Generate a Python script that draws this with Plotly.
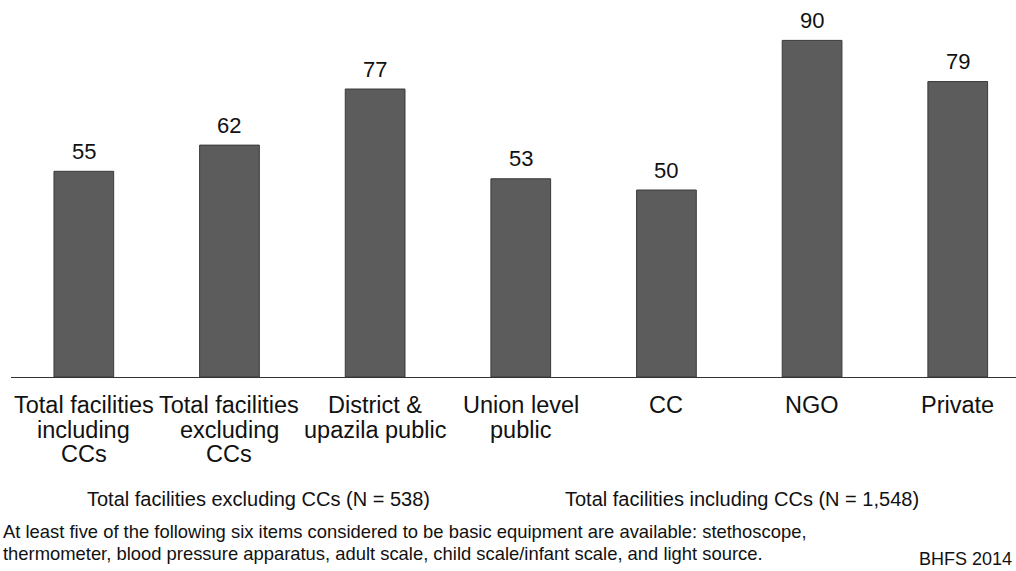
import plotly.graph_objects as go

categories = ["Total facilities<br>including<br>CCs", "Total facilities<br>excluding<br>CCs",
              "District &<br>upazila public", "Union level<br>public", "CC", "NGO", "Private"]
values = [55, 62, 77, 53, 50, 90, 79]

W, H = 1016, 571
L, R, T, B = 11, 0, 3, 194
pw, ph = W - L - R, H - T - B

def px_x(x):
    return (x - L) / pw

def px_y(y):
    return (H - B - y) / ph

FONT = "Liberation Sans, Arial, sans-serif"
xs = list(range(len(categories)))

fig = go.Figure()
fig.add_trace(go.Bar(
    x=xs, y=values, width=0.41,
    marker=dict(color="#5c5c5c", line=dict(color="#3a3a3a", width=1)),
    hoverinfo="skip",
))

ann = []
for x, v in zip(xs, values):
    ann.append(dict(x=x, y=v, xref="x", yref="y", text=str(v), showarrow=False,
                    yanchor="middle", yshift=20,
                    font=dict(family=FONT, size=22, color="#111")))
for x, c in zip(xs, categories):
    for i, line in enumerate(c.split("<br>")):
        ann.append(dict(x=x, y=px_y(405 + 24.5 * i), xref="x", yref="paper", text=line,
                        showarrow=False, yanchor="middle", xanchor="center",
                        font=dict(family=FONT, size=23.5, color="#111")))

ann.append(dict(x=px_x(258), y=px_y(499), xref="paper", yref="paper",
                text="Total facilities excluding CCs (N = 538)", showarrow=False,
                xanchor="center", yanchor="middle",
                font=dict(family=FONT, size=20, color="#111")))
ann.append(dict(x=px_x(742), y=px_y(499), xref="paper", yref="paper",
                text="Total facilities including CCs (N = 1,548)", showarrow=False,
                xanchor="center", yanchor="middle",
                font=dict(family=FONT, size=20, color="#111")))
foot = ["At least five of the following six items considered to be basic equipment are available: stethoscope,",
        "thermometer, blood pressure apparatus, adult scale, child scale/infant scale, and light source."]
for i, line in enumerate(foot):
    ann.append(dict(x=px_x(1), y=px_y(531 + 22 * i), xref="paper", yref="paper",
                    text=line, showarrow=False, xanchor="left", yanchor="middle",
                    font=dict(family=FONT, size=18.4, color="#111")))
ann.append(dict(x=px_x(1014), y=px_y(571), xref="paper", yref="paper",
                text="BHFS 2014", showarrow=False, xanchor="right", yanchor="bottom",
                font=dict(family=FONT, size=18, color="#111")))

fig.update_layout(
    width=W, height=H,
    margin=dict(l=L, r=R, t=T, b=B),
    plot_bgcolor="white", paper_bgcolor="white",
    showlegend=False,
    annotations=ann,
    xaxis=dict(range=[-0.5, 6.4], showticklabels=False, showgrid=False, zeroline=False,
               showline=True, linecolor="#333", linewidth=1, ticks=""),
    yaxis=dict(range=[0, 100], visible=False),
)

fig.write_html("out.html", config={"displayModeBar": False},
               post_script="document.body.style.margin='0';")
